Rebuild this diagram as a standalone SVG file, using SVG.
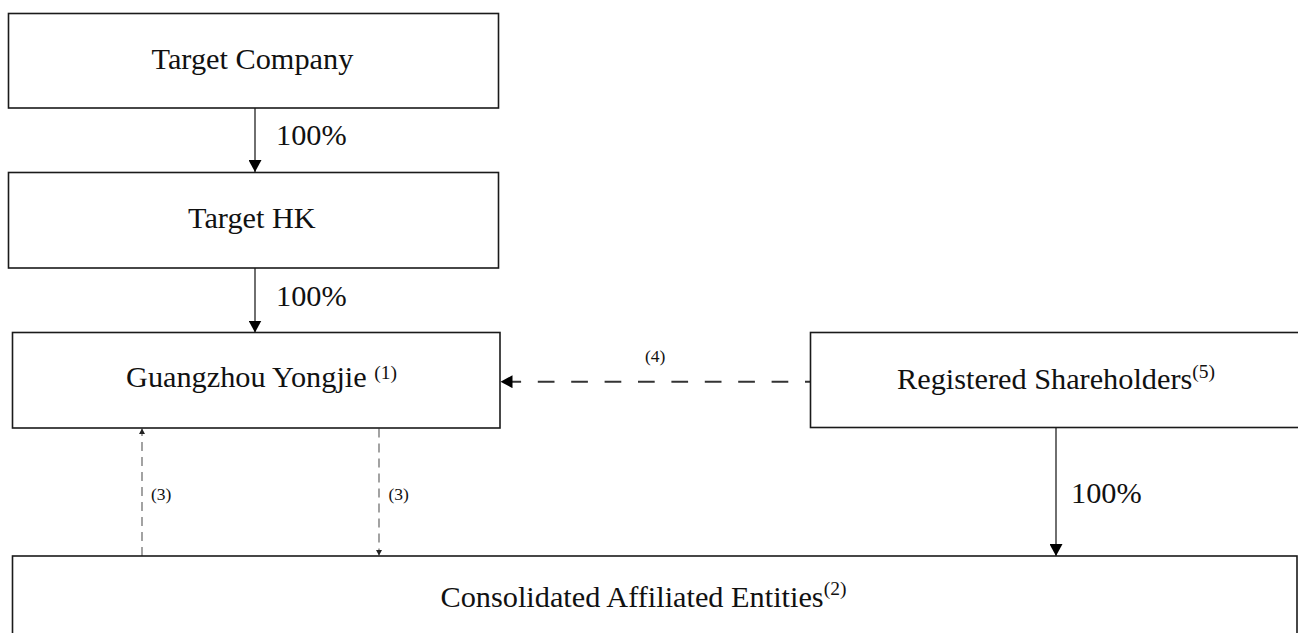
<svg xmlns="http://www.w3.org/2000/svg" width="1298" height="633" viewBox="0 0 1298 633">
  <style>
    .box { fill: #ffffff; stroke: #1a1a1a; stroke-width: 1.6; }
    .lbl { font-family: "Liberation Serif", "Times New Roman", serif; font-size: 30.3px; fill: #111111; }
    .sup { font-size: 19.5px; }
    .small { font-family: "Liberation Serif", "Times New Roman", serif; font-size: 17.5px; fill: #111111; }
    .solid { stroke: #333333; stroke-width: 1.4; fill: none; }
    .dash4 { stroke: #333333; stroke-width: 2; fill: none; stroke-dasharray: 16.7 16.7; stroke-dashoffset: 11.7; }
    .dash3 { stroke: #666666; stroke-width: 1.2; fill: none; stroke-dasharray: 9 6; }
  </style>
  <defs>
    <marker id="big" markerUnits="userSpaceOnUse" markerWidth="13" markerHeight="13" refX="12" refY="6.5" orient="auto">
      <path d="M0,0 L12,6.5 L0,13 z" fill="#000000"/>
    </marker>
    <marker id="small" markerUnits="userSpaceOnUse" markerWidth="6" markerHeight="6" refX="5.5" refY="3" orient="auto">
      <path d="M0,0 L5.5,3 L0,6 z" fill="#222222"/>
    </marker>
  </defs>

  <rect x="0" y="0" width="1298" height="633" fill="#ffffff"/>

  <g id="connectors">
    <line class="solid" x1="255" y1="108" x2="255" y2="172" marker-end="url(#big)"/>
    <text class="lbl" x="276" y="145">100%</text>
    <line class="solid" x1="255" y1="268" x2="255" y2="332.5" marker-end="url(#big)"/>
    <text class="lbl" x="276" y="306">100%</text>
    <line class="dash4" x1="810" y1="381.7" x2="500.5" y2="381.7" marker-end="url(#big)"/>
    <text class="small" x="645" y="362">(4)</text>
    <line class="dash3" x1="142" y1="556" x2="142" y2="428.5" marker-end="url(#small)"/>
    <text class="small" x="151" y="500">(3)</text>
    <line class="dash3" x1="379" y1="428.5" x2="379" y2="555.5" marker-end="url(#small)"/>
    <text class="small" x="388.5" y="500">(3)</text>
    <line class="solid" x1="1056" y1="428" x2="1056" y2="556" marker-end="url(#big)"/>
    <text class="lbl" x="1071" y="502.5">100%</text>
  </g>

  <g id="target-company">
    <rect class="box" x="8.5" y="13.5" width="490" height="94.5"/>
    <text class="lbl" x="151.5" y="68.5">Target Company</text>
  </g>

  <g id="target-hk">
    <rect class="box" x="8.5" y="172.5" width="490" height="95.5"/>
    <text class="lbl" x="188" y="228">Target HK</text>
  </g>

  <g id="guangzhou-yongjie">
    <rect class="box" x="12.5" y="332.5" width="487.5" height="95.5"/>
    <text class="lbl" x="126" y="387">Guangzhou Yongjie <tspan class="sup" dy="-8">(1)</tspan></text>
  </g>

  <g id="registered-shareholders">
    <rect class="box" x="810.5" y="332.5" width="500" height="95"/>
    <text class="lbl" x="897" y="389">Registered Shareholders<tspan class="sup" dy="-11">(5)</tspan></text>
  </g>

  <g id="consolidated-affiliated-entities">
    <rect class="box" x="12.5" y="556" width="1284.5" height="100"/>
    <text class="lbl" x="440.5" y="607">Consolidated Affiliated Entities<tspan class="sup" dy="-12">(2)</tspan></text>
  </g>
</svg>
